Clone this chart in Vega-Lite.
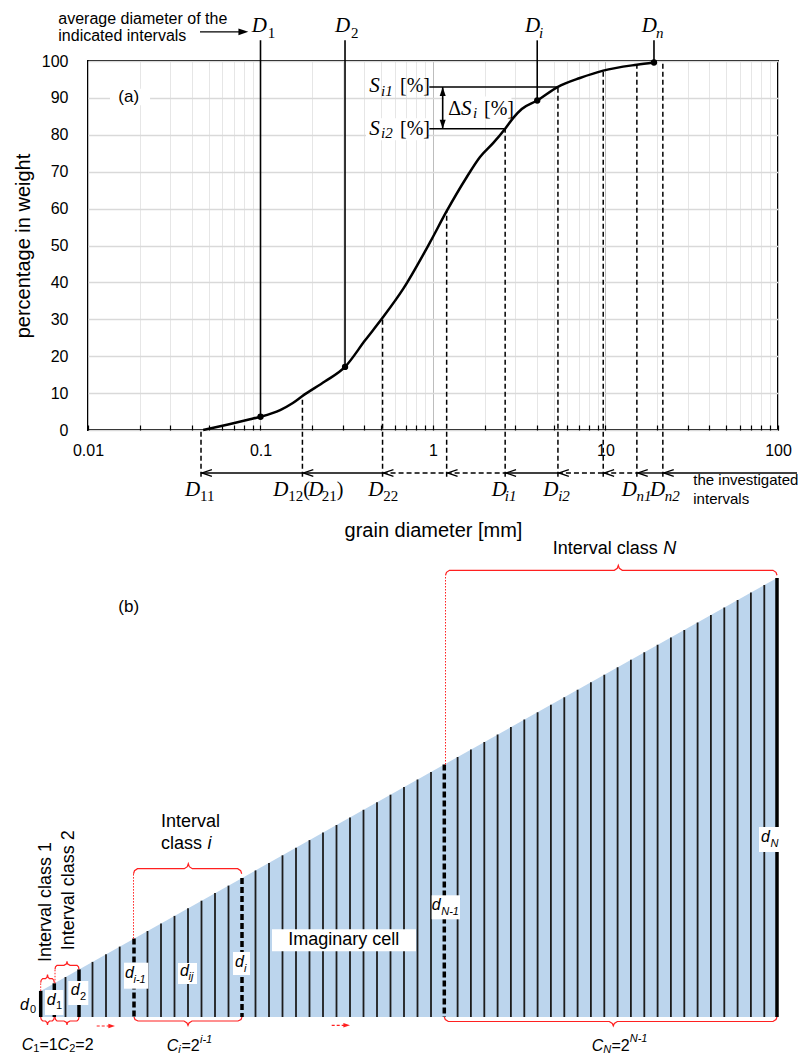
{
  "$schema": "https://vega.github.io/schema/vega-lite/v6.json",
  "padding": 0,
  "autosize": {"type": "pad"},
  "background": "white",
  "spacing": 20,
  "bounds": "flush",
  "config": {"font": "Liberation Sans"},
  "vconcat": [
    {
      "width": 690,
      "height": 369,
      "view": {"stroke": "black", "strokeWidth": 2},
      "encoding": {
        "x": {
          "field": "d", "type": "quantitative",
          "scale": {"type": "log", "domain": [0.01, 100]},
          "axis": {
            "values": [0.01,0.02,0.03,0.04,0.05,0.06,0.07,0.08,0.09,0.1,0.2,0.3,0.4,0.5,0.6,0.7,0.8,0.9,1,2,3,4,5,6,7,8,9,10,20,30,40,50,60,70,80,90,100],
            "grid": true,
            "gridColor": {"condition": {"test": "indexof([0.01,0.1,1,10,100], datum.value) >= 0", "value": "#bdbdbd"}, "value": "#e6e6e6"},
            "gridWidth": 1,
            "domain": false,
            "ticks": true, "tickSize": -5, "tickColor": "black", "tickWidth": 1.2,
            "labelExpr": "indexof([0.01,0.1,1,10,100], datum.value) >= 0 ? format(datum.value, '~g') : ''",
            "labelFont": "Liberation Sans", "labelFontSize": 16, "labelColor": "black",
            "labelPadding": 17, "labelFlush": false, "labelOverlap": false,
            "title": "grain diameter [mm]", "titleFont": "Liberation Sans", "titleFontSize": 20,
            "titleFontWeight": "normal", "titleColor": "black", "titlePadding": 62
          }
        },
        "y": {
          "field": "p", "type": "quantitative",
          "scale": {"domain": [0, 100], "nice": false},
          "axis": {
            "values": [0,10,20,30,40,50,60,70,80,90,100],
            "grid": true, "gridColor": "#d9d9d9", "gridWidth": 1.5,
            "domain": false, "ticks": false,
            "labelFont": "Liberation Sans", "labelFontSize": 16, "labelColor": "black", "labelPadding": 20,
            "title": "percentage in weight", "titleFont": "Liberation Sans", "titleFontSize": 20,
            "titleFontWeight": "normal", "titleColor": "black", "titlePadding": 8
          }
        }
      },
      "layer": [
        {
          "data": {"values": [{"d": 1, "d2": 1.02, "p": 115.95, "p2": 116.0}]},
          "mark": {"type": "rect", "opacity": 0},
          "encoding": {"x2": {"field": "d2"}, "y2": {"field": "p2"}}
        },
        {
          "data": {"values": [
            {"d": 0.01341, "d2": 0.02289, "p": 88, "p2": 92.5},
            {"d": 0.4088, "d2": 0.9354, "p": 78.5, "p2": 84.5},
            {"d": 1.158, "d2": 2.85, "p": 84.2, "p2": 90.4}
          ]},
          "mark": {"type": "rect", "fill": "white"},
          "encoding": {"x2": {"field": "d2"}, "y2": {"field": "p2"}}
        },
        {
          "data": {"values": [
            {"d":0.0465,"p":0},{"d":0.0649,"p":1.5},{"d":0.0869,"p":2.9},{"d":0.1,"p":3.6},{"d":0.13,"p":5.4},{"d":0.154,"p":7.3},{"d":0.175,"p":9.2},{"d":0.237,"p":13.2},{"d":0.309,"p":17.1},{"d":0.404,"p":24.3},{"d":0.51,"p":30.4},{"d":0.673,"p":38.3},{"d":0.962,"p":50.9},{"d":1.2,"p":59.3},{"d":1.567,"p":68.5},{"d":1.873,"p":74.0},{"d":2.237,"p":77.8},{"d":2.62,"p":81.65},{"d":2.92,"p":84.6},{"d":3.27,"p":87.0},{"d":4.02,"p":89.3},{"d":5.3,"p":93.0},{"d":7.11,"p":95.4},{"d":9.7,"p":97.4},{"d":15.2,"p":99.0},{"d":19.1,"p":99.6}
          ]},
          "mark": {"type": "line", "color": "black", "strokeWidth": 2.5, "interpolate": "monotone"}
        },
        {
          "data": {"values": [
            {"d": 0.1, "p": 3.6, "p2": 105.6},
            {"d": 0.309, "p": 17.1, "p2": 105.6},
            {"d": 4.02, "p": 89.3, "p2": 105.6},
            {"d": 19.1, "p": 99.6, "p2": 105.6},
            {"d": 1.138, "p": 81.65, "p2": 92.95}
          ]},
          "mark": {"type": "rule", "color": "black", "strokeWidth": 1.6},
          "encoding": {"y2": {"field": "p2"}}
        },
        {
          "data": {"values": [
            {"d": 0.0452, "p": -12.7, "p2": 0},
            {"d": 0.175, "p": -12.7, "p2": 9.2},
            {"d": 0.51, "p": -12.7, "p2": 30.4},
            {"d": 1.2, "p": -12.7, "p2": 59.3},
            {"d": 2.62, "p": -12.7, "p2": 81.65},
            {"d": 5.3, "p": -12.7, "p2": 93.0},
            {"d": 9.7, "p": -12.7, "p2": 97.4},
            {"d": 15.2, "p": -12.7, "p2": 99.0},
            {"d": 21.5, "p": -12.7, "p2": 100}
          ]},
          "mark": {"type": "rule", "color": "black", "strokeWidth": 1.5, "strokeDash": [5, 3]},
          "encoding": {"y2": {"field": "p2"}}
        },
        {
          "data": {"values": [
            {"d": 0.9519, "d2": 5.3, "p": 92.95},
            {"d": 0.9519, "d2": 2.62, "p": 81.65},
            {"d": 0.0446, "d2": 0.08, "p": 107.9},
            {"d": 0.0452, "d2": 0.175, "p": -11.65},
            {"d": 0.175, "d2": 0.51, "p": -11.65},
            {"d": 2.62, "d2": 5.3, "p": -11.65},
            {"d": 15.2, "d2": 21.5, "p": -11.65},
            {"d": 21.5, "d2": 128.8, "p": -11.65}
          ]},
          "mark": {"type": "rule", "color": "black", "strokeWidth": 1.4},
          "encoding": {"x2": {"field": "d2"}}
        },
        {
          "data": {"values": [
            {"d": 0.51, "d2": 1.2, "p": -11.65},
            {"d": 1.2, "d2": 2.62, "p": -11.65},
            {"d": 5.3, "d2": 9.7, "p": -11.65},
            {"d": 9.7, "d2": 15.2, "p": -11.65}
          ]},
          "mark": {"type": "rule", "color": "black", "strokeWidth": 1.4, "strokeDash": [5, 3]},
          "encoding": {"x2": {"field": "d2"}}
        },
        {
          "data": {"values": [
            {"d": 0.1, "p": 3.6}, {"d": 0.309, "p": 17.1}, {"d": 4.02, "p": 89.3}, {"d": 19.1, "p": 99.6}
          ]},
          "mark": {"type": "point", "filled": true, "color": "black", "size": 40, "opacity": 1}
        },
        {
          "data": {"values": [
            {"d": 0.0458, "p": -11.65}, {"d": 0.1773, "p": -11.65}, {"d": 0.5168, "p": -11.65},
            {"d": 1.216, "p": -11.65}, {"d": 2.655, "p": -11.65}, {"d": 5.371, "p": -11.65},
            {"d": 9.83, "p": -11.65}, {"d": 15.4, "p": -11.65}, {"d": 21.79, "p": -11.65}
          ]},
          "mark": {"type": "point", "shape": "M3.3,-1.1L0,0L3.3,1.1", "filled": false, "stroke": "black", "strokeWidth": 1.3, "size": 36, "opacity": 1}
        },
        {
          "data": {"values": [
            {"d": 0.085, "p": 107.9, "dir": "r"},
            {"d": 1.138, "p": 92.95, "dir": "u"},
            {"d": 1.138, "p": 81.65, "dir": "dn"}
          ]},
          "mark": {"type": "point", "filled": true, "color": "black", "size": 36, "opacity": 1},
          "encoding": {
            "shape": {"field": "dir", "type": "nominal", "legend": null,
              "scale": {"domain": ["r", "u", "dn"], "range": ["M0,0L-3.3,-1.1L-3.3,1.1Z", "M0,0L-1,3L1,3Z", "M0,0L-1,-3L1,-3Z"]}}
          }
        },
        {
          "data": {"name": "ta"},
          "transform": [{"filter": "datum.k == 'note'"}],
          "mark": {"type": "text", "align": "left", "baseline": "middle", "font": "Liberation Sans", "fontSize": 16, "color": "black"},
          "encoding": {"text": {"field": "t"}}
        },
        {
          "data": {"name": "ta"},
          "transform": [{"filter": "datum.k == 'note2'"}],
          "mark": {"type": "text", "align": "left", "baseline": "middle", "font": "Liberation Sans", "fontSize": 15, "color": "black"},
          "encoding": {"text": {"field": "t"}}
        },
        {
          "data": {"name": "ta"},
          "transform": [{"filter": "datum.k == 'tag'"}],
          "mark": {"type": "text", "align": "left", "baseline": "middle", "font": "Liberation Sans", "fontSize": 17, "color": "black"},
          "encoding": {"text": {"field": "t"}}
        },
        {
          "data": {"name": "ta"},
          "transform": [{"filter": "datum.k == 'v'"}],
          "mark": {"type": "text", "align": "left", "baseline": "middle", "font": "Liberation Serif", "fontStyle": "italic", "fontSize": 21, "color": "black"},
          "encoding": {"text": {"field": "t"}}
        },
        {
          "data": {"name": "ta"},
          "transform": [{"filter": "datum.k == 'u'"}],
          "mark": {"type": "text", "align": "left", "baseline": "middle", "font": "Liberation Serif", "fontSize": 20, "color": "black"},
          "encoding": {"text": {"field": "t"}}
        },
        {
          "data": {"name": "ta"},
          "transform": [{"filter": "datum.k == 's'"}],
          "mark": {"type": "text", "align": "left", "baseline": "middle", "font": "Liberation Serif", "fontSize": 15, "color": "black"},
          "encoding": {"text": {"field": "t"}}
        },
        {
          "data": {"name": "ta"},
          "transform": [{"filter": "datum.k == 'si'"}],
          "mark": {"type": "text", "align": "left", "baseline": "middle", "font": "Liberation Serif", "fontStyle": "italic", "fontSize": 15, "color": "black"},
          "encoding": {"text": {"field": "t"}}
        }
      ]
    },
    {
      "width": 690,
      "height": 605,
      "view": {"stroke": null},
      "encoding": {
        "x": {"field": "x", "type": "quantitative", "scale": {"domain": [88, 778], "nice": false, "zero": false}, "axis": null},
        "y": {"field": "h", "type": "quantitative", "scale": {"domain": [-38, 567], "nice": false, "zero": false}, "axis": null}
      },
      "layer": [
        {
          "data": {"values": [{"x": 0, "x2": 1, "h": -38, "h2": -37.9}, {"x": 807, "x2": 808, "h": -38, "h2": -37.9}]},
          "mark": {"type": "rect", "opacity": 0},
          "encoding": {"x2": {"field": "x2"}, "y2": {"field": "h2"}}
        },
        {
          "data": {"values": [{"x": 40.7, "top": 26.1}, {"x": 777, "top": 439.1}]},
          "mark": {"type": "area", "color": "#bcd5ed", "opacity": 1},
          "encoding": {"y": {"field": "top"}, "y2": {"datum": 0}}
        },
        {
          "data": {"name": "lines"},
          "transform": [{"filter": "datum.k == 'thin'"}],
          "mark": {"type": "rule", "color": "#1c1c1c", "strokeWidth": 1.8},
          "encoding": {"y": {"field": "top"}, "y2": {"field": "base"}}
        },
        {
          "data": {"name": "lines"},
          "transform": [{"filter": "datum.k == 'thick'"}],
          "mark": {"type": "rule", "color": "black", "strokeWidth": 3.5},
          "encoding": {"y": {"field": "top"}, "y2": {"field": "base"}}
        },
        {
          "data": {"name": "lines"},
          "transform": [{"filter": "datum.k == 'dash'"}],
          "mark": {"type": "rule", "color": "black", "strokeWidth": 3.5, "strokeDash": [6, 3]},
          "encoding": {"y": {"field": "top"}, "y2": {"field": "base"}}
        },
        {
          "data": {"values": [
            {"x": 445.5, "h": 252.5, "top": 441.7},
            {"x": 133.5, "h": 78.4, "top": 143.3},
            {"x": 40.7, "h": 26.1, "top": 34.3},
            {"x": 55, "h": 33.7, "top": 47.7}
          ]},
          "mark": {"type": "rule", "color": "#ff2020", "strokeWidth": 1, "strokeDash": [1.5, 1.5]},
          "encoding": {"y2": {"field": "top"}}
        },
        {
          "data": {"name": "braces"},
          "mark": {"type": "line", "color": "#ff2020", "strokeWidth": 1.2, "interpolate": "linear"},
          "encoding": {"detail": {"field": "g", "type": "nominal"}, "order": {"field": "o", "type": "quantitative"}}
        },
        {
          "data": {"values": [{"x": 96.7, "x2": 112, "h": -9}, {"x": 331.7, "x2": 347, "h": -8.3}]},
          "mark": {"type": "rule", "color": "#ff2020", "strokeWidth": 1.2, "strokeDash": [3, 2]},
          "encoding": {"x2": {"field": "x2"}}
        },
        {
          "data": {"values": [{"x": 115, "h": -9}, {"x": 350, "h": -8.3}]},
          "mark": {"type": "point", "shape": "M0,0L-3.3,-1.1L-3.3,1.1Z", "filled": true, "color": "#ff2020", "size": 16, "opacity": 1}
        },
        {
          "data": {"values": [
            {"x": 45, "x2": 63.3, "h": 2, "h2": 27},
            {"x": 68.3, "x2": 88.3, "h": 12, "h2": 36},
            {"x": 124, "x2": 148.3, "h": 28.3, "h2": 54.3},
            {"x": 178, "x2": 197, "h": 33, "h2": 54},
            {"x": 233, "x2": 250, "h": 42, "h2": 65},
            {"x": 272, "x2": 416, "h": 65.7, "h2": 87.7},
            {"x": 431.7, "x2": 460, "h": 97.7, "h2": 121.7},
            {"x": 759, "x2": 790, "h": 165, "h2": 190}
          ]},
          "mark": {"type": "rect", "fill": "white"},
          "encoding": {"x2": {"field": "x2"}, "y2": {"field": "h2"}}
        },
        {
          "data": {"name": "tb"},
          "transform": [{"filter": "datum.k == 'L'"}],
          "mark": {"type": "text", "align": "left", "baseline": "middle", "font": "Liberation Sans", "fontSize": 18, "color": "black"},
          "encoding": {"text": {"field": "t"}}
        },
        {
          "data": {"name": "tb"},
          "transform": [{"filter": "datum.k == 'Li'"}],
          "mark": {"type": "text", "align": "left", "baseline": "middle", "font": "Liberation Sans", "fontStyle": "italic", "fontSize": 18, "color": "black"},
          "encoding": {"text": {"field": "t"}}
        },
        {
          "data": {"name": "tb"},
          "transform": [{"filter": "datum.k == 'R'"}],
          "mark": {"type": "text", "align": "left", "baseline": "middle", "angle": 270, "font": "Liberation Sans", "fontSize": 18, "color": "black"},
          "encoding": {"text": {"field": "t"}}
        },
        {
          "data": {"name": "tb"},
          "transform": [{"filter": "datum.k == 'tag'"}],
          "mark": {"type": "text", "align": "left", "baseline": "middle", "font": "Liberation Sans", "fontSize": 17, "color": "black"},
          "encoding": {"text": {"field": "t"}}
        },
        {
          "data": {"name": "tb"},
          "transform": [{"filter": "datum.k == 'V'"}],
          "mark": {"type": "text", "align": "left", "baseline": "middle", "font": "Liberation Sans", "fontStyle": "italic", "fontSize": 16, "color": "black"},
          "encoding": {"text": {"field": "t"}}
        },
        {
          "data": {"name": "tb"},
          "transform": [{"filter": "datum.k == 'N'"}],
          "mark": {"type": "text", "align": "left", "baseline": "middle", "font": "Liberation Sans", "fontSize": 16, "color": "black"},
          "encoding": {"text": {"field": "t"}}
        },
        {
          "data": {"name": "tb"},
          "transform": [{"filter": "datum.k == 'S'"}],
          "mark": {"type": "text", "align": "left", "baseline": "middle", "font": "Liberation Sans", "fontSize": 11, "color": "black"},
          "encoding": {"text": {"field": "t"}}
        },
        {
          "data": {"name": "tb"},
          "transform": [{"filter": "datum.k == 'Si'"}],
          "mark": {"type": "text", "align": "left", "baseline": "middle", "font": "Liberation Sans", "fontStyle": "italic", "fontSize": 11, "color": "black"},
          "encoding": {"text": {"field": "t"}}
        }
      ]
    }
  ],
  "datasets": {
    "ta": [
      {"d": 0.006726, "p": 111.5, "t": "average diameter of the", "k": "note"},
      {"d": 0.006726, "p": 106.8, "t": "indicated intervals", "k": "note"},
      {"d": 0.01498, "p": 90.2, "t": "(a)", "k": "tag"},
      {"d": 0.0889, "p": 109.5, "t": "D", "k": "v"},
      {"d": 0.1102, "p": 107.7, "t": "1", "k": "s"},
      {"d": 0.2704, "p": 109.5, "t": "D", "k": "v"},
      {"d": 0.3352, "p": 107.7, "t": "2", "k": "s"},
      {"d": 3.414, "p": 109.5, "t": "D", "k": "v"},
      {"d": 4.117, "p": 107.7, "t": "i", "k": "si"},
      {"d": 16.21, "p": 109.5, "t": "D", "k": "v"},
      {"d": 19.63, "p": 107.7, "t": "n", "k": "si"},
      {"d": 0.0365, "p": -16.3, "t": "D", "k": "v"},
      {"d": 0.04459, "p": -17.9, "t": "11", "k": "s"},
      {"d": 0.1186, "p": -16.3, "t": "D", "k": "v"},
      {"d": 0.1449, "p": -17.9, "t": "12", "k": "s"},
      {"d": 0.1771, "p": -16.3, "t": "(", "k": "u"},
      {"d": 0.1893, "p": -16.3, "t": "D", "k": "v"},
      {"d": 0.2263, "p": -17.9, "t": "21", "k": "s"},
      {"d": 0.2765, "p": -16.3, "t": ")", "k": "u"},
      {"d": 0.4215, "p": -16.3, "t": "D", "k": "v"},
      {"d": 0.515, "p": -17.9, "t": "22", "k": "s"},
      {"d": 2.189, "p": -16.3, "t": "D", "k": "v"},
      {"d": 2.607, "p": -17.9, "t": "i1", "k": "si"},
      {"d": 4.359, "p": -16.3, "t": "D", "k": "v"},
      {"d": 5.317, "p": -17.9, "t": "i2", "k": "si"},
      {"d": 12.41, "p": -16.3, "t": "D", "k": "v"},
      {"d": 15.13, "p": -17.9, "t": "n1", "k": "si"},
      {"d": 18.11, "p": -16.3, "t": "D", "k": "v"},
      {"d": 22.06, "p": -17.9, "t": "n2", "k": "si"},
      {"d": 32.28, "p": -13.55, "t": "the investigated", "k": "note2"},
      {"d": 32.28, "p": -18.6, "t": "intervals", "k": "note2"},
      {"d": 0.4272, "p": 93.2, "t": "S", "k": "v"},
      {"d": 0.5, "p": 92.0, "t": "i1", "k": "si"},
      {"d": 0.6436, "p": 93.2, "t": "[%]", "k": "u"},
      {"d": 0.4272, "p": 81.65, "t": "S", "k": "v"},
      {"d": 0.5, "p": 80.45, "t": "i2", "k": "si"},
      {"d": 0.6436, "p": 81.65, "t": "[%]", "k": "u"},
      {"d": 1.2266, "p": 87.1, "t": "Δ", "k": "u"},
      {"d": 1.453, "p": 87.1, "t": "S", "k": "v"},
      {"d": 1.706, "p": 85.9, "t": "i", "k": "si"},
      {"d": 1.975, "p": 87.1, "t": "[%]", "k": "u"}
    ],
    "lines": [
      {"x": 40.7, "top": 26.1, "base": 0, "k": "thick"}, {"x": 54.3, "top": 33.7, "base": 0, "k": "thick"}, {"x": 79, "top": 47.6, "base": 0, "k": "thick"}, {"x": 777, "top": 439.1, "base": 0, "k": "thick"},
      {"x": 134, "top": 78.4, "base": 0, "k": "dash"}, {"x": 242, "top": 139.0, "base": 0, "k": "dash"}, {"x": 444.3, "top": 252.5, "base": 0, "k": "dash"},
      {"x": 65.5, "top": 40.0, "base": 0, "k": "thin"}, {"x": 92.5, "top": 55.1, "base": 0, "k": "thin"}, {"x": 106, "top": 62.7, "base": 0, "k": "thin"}, {"x": 119.7, "top": 70.4, "base": 0, "k": "thin"},
      {"x": 147.5, "top": 86.0, "base": 0, "k": "thin"}, {"x": 161, "top": 93.6, "base": 0, "k": "thin"}, {"x": 174.5, "top": 101.1, "base": 0, "k": "thin"}, {"x": 188, "top": 108.7, "base": 0, "k": "thin"},
      {"x": 201.5, "top": 116.3, "base": 0, "k": "thin"}, {"x": 215, "top": 123.9, "base": 0, "k": "thin"}, {"x": 228.5, "top": 131.4, "base": 0, "k": "thin"},
      {"x": 255.5, "top": 146.6, "base": 0, "k": "thin"}, {"x": 269, "top": 154.1, "base": 0, "k": "thin"}, {"x": 282.5, "top": 161.7, "base": 0, "k": "thin"}, {"x": 296, "top": 169.3, "base": 0, "k": "thin"},
      {"x": 309.5, "top": 176.9, "base": 0, "k": "thin"}, {"x": 323, "top": 184.4, "base": 0, "k": "thin"}, {"x": 336.5, "top": 192.0, "base": 0, "k": "thin"}, {"x": 350, "top": 199.6, "base": 0, "k": "thin"},
      {"x": 363.5, "top": 207.2, "base": 0, "k": "thin"}, {"x": 377, "top": 214.7, "base": 0, "k": "thin"}, {"x": 390.5, "top": 222.3, "base": 0, "k": "thin"}, {"x": 404, "top": 229.9, "base": 0, "k": "thin"},
      {"x": 417.5, "top": 237.5, "base": 0, "k": "thin"}, {"x": 431, "top": 245.0, "base": 0, "k": "thin"},
      {"x": 457.6, "top": 260.0, "base": 0, "k": "thin"}, {"x": 470.9, "top": 267.4, "base": 0, "k": "thin"}, {"x": 484.3, "top": 274.9, "base": 0, "k": "thin"}, {"x": 497.6, "top": 282.4, "base": 0, "k": "thin"},
      {"x": 510.9, "top": 289.9, "base": 0, "k": "thin"}, {"x": 524.3, "top": 297.4, "base": 0, "k": "thin"}, {"x": 537.6, "top": 304.8, "base": 0, "k": "thin"}, {"x": 550.9, "top": 312.3, "base": 0, "k": "thin"},
      {"x": 564.3, "top": 319.8, "base": 0, "k": "thin"}, {"x": 577.6, "top": 327.3, "base": 0, "k": "thin"}, {"x": 590.9, "top": 334.7, "base": 0, "k": "thin"}, {"x": 604.3, "top": 342.3, "base": 0, "k": "thin"},
      {"x": 617.6, "top": 349.7, "base": 0, "k": "thin"}, {"x": 630.9, "top": 357.2, "base": 0, "k": "thin"}, {"x": 644.3, "top": 364.7, "base": 0, "k": "thin"}, {"x": 657.6, "top": 372.2, "base": 0, "k": "thin"},
      {"x": 670.9, "top": 379.6, "base": 0, "k": "thin"}, {"x": 684.3, "top": 387.1, "base": 0, "k": "thin"}, {"x": 697.6, "top": 394.6, "base": 0, "k": "thin"}, {"x": 710.9, "top": 402.1, "base": 0, "k": "thin"},
      {"x": 724.3, "top": 409.6, "base": 0, "k": "thin"}, {"x": 737.6, "top": 417.0, "base": 0, "k": "thin"}, {"x": 750.9, "top": 424.5, "base": 0, "k": "thin"}, {"x": 764.3, "top": 432.0, "base": 0, "k": "thin"}
    ],
    "braces": [
      {"g": "tN", "o": 1, "x": 445.5, "h": 441.7}, {"g": "tN", "o": 2, "x": 446.5, "h": 444.7}, {"g": "tN", "o": 3, "x": 449.5, "h": 446.7}, {"g": "tN", "o": 4, "x": 614.3, "h": 446.7}, {"g": "tN", "o": 5, "x": 617.3, "h": 448.7}, {"g": "tN", "o": 6, "x": 618.3, "h": 451.7}, {"g": "tN", "o": 7, "x": 619.3, "h": 448.7}, {"g": "tN", "o": 8, "x": 622.3, "h": 446.7}, {"g": "tN", "o": 9, "x": 773, "h": 446.7}, {"g": "tN", "o": 10, "x": 776, "h": 444.7}, {"g": "tN", "o": 11, "x": 777, "h": 441.7},
      {"g": "ti", "o": 1, "x": 133.5, "h": 143.3}, {"g": "ti", "o": 2, "x": 134.5, "h": 146.3}, {"g": "ti", "o": 3, "x": 137.5, "h": 148.3}, {"g": "ti", "o": 4, "x": 184.3, "h": 148.3}, {"g": "ti", "o": 5, "x": 187.3, "h": 150.3}, {"g": "ti", "o": 6, "x": 188.3, "h": 153.3}, {"g": "ti", "o": 7, "x": 189.3, "h": 150.3}, {"g": "ti", "o": 8, "x": 192.3, "h": 148.3}, {"g": "ti", "o": 9, "x": 237.7, "h": 148.3}, {"g": "ti", "o": 10, "x": 240.7, "h": 146.3}, {"g": "ti", "o": 11, "x": 241.7, "h": 143.3},
      {"g": "t1", "o": 1, "x": 40.7, "h": 34.3}, {"g": "t1", "o": 2, "x": 41.2, "h": 36.8}, {"g": "t1", "o": 3, "x": 42.7, "h": 38.3}, {"g": "t1", "o": 4, "x": 45.5, "h": 38.3}, {"g": "t1", "o": 5, "x": 47, "h": 39.8}, {"g": "t1", "o": 6, "x": 47.5, "h": 42.3}, {"g": "t1", "o": 7, "x": 48, "h": 39.8}, {"g": "t1", "o": 8, "x": 49.5, "h": 38.3}, {"g": "t1", "o": 9, "x": 52.3, "h": 38.3}, {"g": "t1", "o": 10, "x": 53.8, "h": 36.8}, {"g": "t1", "o": 11, "x": 54.3, "h": 34.3},
      {"g": "t2", "o": 1, "x": 55, "h": 47.7}, {"g": "t2", "o": 2, "x": 55.5, "h": 50.2}, {"g": "t2", "o": 3, "x": 57, "h": 51.7}, {"g": "t2", "o": 4, "x": 64, "h": 51.7}, {"g": "t2", "o": 5, "x": 66.5, "h": 53.2}, {"g": "t2", "o": 6, "x": 67, "h": 55.7}, {"g": "t2", "o": 7, "x": 67.5, "h": 53.2}, {"g": "t2", "o": 8, "x": 70, "h": 51.7}, {"g": "t2", "o": 9, "x": 77, "h": 51.7}, {"g": "t2", "o": 10, "x": 78.5, "h": 50.2}, {"g": "t2", "o": 11, "x": 79, "h": 47.7},
      {"g": "b1", "o": 1, "x": 40.7, "h": 0}, {"g": "b1", "o": 2, "x": 41.2, "h": -2.5}, {"g": "b1", "o": 3, "x": 42.7, "h": -4}, {"g": "b1", "o": 4, "x": 45.5, "h": -4}, {"g": "b1", "o": 5, "x": 47, "h": -5.5}, {"g": "b1", "o": 6, "x": 47.5, "h": -8}, {"g": "b1", "o": 7, "x": 48, "h": -5.5}, {"g": "b1", "o": 8, "x": 49.5, "h": -4}, {"g": "b1", "o": 9, "x": 52.3, "h": -4}, {"g": "b1", "o": 10, "x": 53.8, "h": -2.5}, {"g": "b1", "o": 11, "x": 54.3, "h": 0},
      {"g": "b2", "o": 1, "x": 55, "h": 0}, {"g": "b2", "o": 2, "x": 55.5, "h": -2.5}, {"g": "b2", "o": 3, "x": 57, "h": -4}, {"g": "b2", "o": 4, "x": 64, "h": -4}, {"g": "b2", "o": 5, "x": 66.5, "h": -5.5}, {"g": "b2", "o": 6, "x": 67, "h": -8}, {"g": "b2", "o": 7, "x": 67.5, "h": -5.5}, {"g": "b2", "o": 8, "x": 70, "h": -4}, {"g": "b2", "o": 9, "x": 77, "h": -4}, {"g": "b2", "o": 10, "x": 78.5, "h": -2.5}, {"g": "b2", "o": 11, "x": 79, "h": 0},
      {"g": "bi", "o": 1, "x": 134, "h": 0}, {"g": "bi", "o": 2, "x": 135, "h": -2.5}, {"g": "bi", "o": 3, "x": 138, "h": -4}, {"g": "bi", "o": 4, "x": 184, "h": -4}, {"g": "bi", "o": 5, "x": 187, "h": -6}, {"g": "bi", "o": 6, "x": 188, "h": -8.5}, {"g": "bi", "o": 7, "x": 189, "h": -6}, {"g": "bi", "o": 8, "x": 192, "h": -4}, {"g": "bi", "o": 9, "x": 238, "h": -4}, {"g": "bi", "o": 10, "x": 241, "h": -2.5}, {"g": "bi", "o": 11, "x": 242, "h": 0},
      {"g": "bN", "o": 1, "x": 444.3, "h": 0}, {"g": "bN", "o": 2, "x": 445.3, "h": -2.5}, {"g": "bN", "o": 3, "x": 448.3, "h": -4.5}, {"g": "bN", "o": 4, "x": 609.3, "h": -4.5}, {"g": "bN", "o": 5, "x": 612.3, "h": -6.5}, {"g": "bN", "o": 6, "x": 613.3, "h": -9}, {"g": "bN", "o": 7, "x": 614.3, "h": -6.5}, {"g": "bN", "o": 8, "x": 617.3, "h": -4.5}, {"g": "bN", "o": 9, "x": 773, "h": -4.5}, {"g": "bN", "o": 10, "x": 776, "h": -2.5}, {"g": "bN", "o": 11, "x": 777, "h": 0}
    ],
    "tb": [
      {"x": 552.7, "h": 468, "t": "Interval class ", "k": "L"},
      {"x": 663.2, "h": 468, "t": "N", "k": "Li"},
      {"x": 161, "h": 195, "t": "Interval", "k": "L"},
      {"x": 161, "h": 173.3, "t": "class", "k": "L"},
      {"x": 207.5, "h": 173.3, "t": "i", "k": "Li"},
      {"x": 288.3, "h": 76.7, "t": "Imaginary cell", "k": "L"},
      {"x": 118.3, "h": 410, "t": "(b)", "k": "tag"},
      {"x": 45.8, "h": 55, "t": "Interval class 1", "k": "R"},
      {"x": 69.2, "h": 66.7, "t": "Interval class 2", "k": "R"},
      {"x": 20, "h": 12, "t": "d", "k": "V"}, {"x": 30, "h": 7, "t": "0", "k": "S"},
      {"x": 46.7, "h": 16.7, "t": "d", "k": "V"}, {"x": 56, "h": 11, "t": "1", "k": "S"},
      {"x": 70.7, "h": 27.5, "t": "d", "k": "V"}, {"x": 80, "h": 20, "t": "2", "k": "S"},
      {"x": 125, "h": 44.2, "t": "d", "k": "V"}, {"x": 133.5, "h": 36.7, "t": "i-1", "k": "Si"},
      {"x": 180, "h": 46, "t": "d", "k": "V"}, {"x": 188.5, "h": 40, "t": "ij", "k": "Si"},
      {"x": 235, "h": 55, "t": "d", "k": "V"}, {"x": 244, "h": 48.3, "t": "i", "k": "Si"},
      {"x": 431.7, "h": 112.5, "t": "d", "k": "V"}, {"x": 441.2, "h": 105.5, "t": "N-1", "k": "Si"},
      {"x": 761, "h": 180, "t": "d", "k": "V"}, {"x": 770.5, "h": 173, "t": "N", "k": "Si"},
      {"x": 21.7, "h": -27.5, "t": "C", "k": "V"}, {"x": 33.3, "h": -31.5, "t": "1", "k": "S"}, {"x": 39.4, "h": -27.5, "t": "=1", "k": "N"},
      {"x": 57.6, "h": -27.5, "t": "C", "k": "V"}, {"x": 69.2, "h": -31.5, "t": "2", "k": "S"}, {"x": 75.3, "h": -27.5, "t": "=2", "k": "N"},
      {"x": 166.7, "h": -29, "t": "C", "k": "V"}, {"x": 178.3, "h": -33, "t": "i", "k": "Si"}, {"x": 181.5, "h": -29, "t": "=2", "k": "N"}, {"x": 200, "h": -23, "t": "i-1", "k": "Si"},
      {"x": 591.7, "h": -29, "t": "C", "k": "V"}, {"x": 603.3, "h": -33, "t": "N", "k": "Si"}, {"x": 611.5, "h": -29, "t": "=2", "k": "N"}, {"x": 629.7, "h": -22.3, "t": "N-1", "k": "Si"}
    ]
  }
}
